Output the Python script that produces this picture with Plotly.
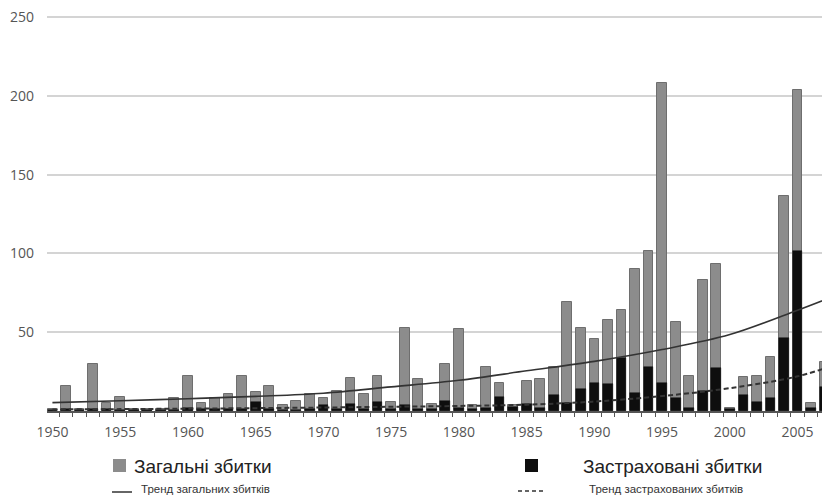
import plotly.graph_objects as go

# ---- data ----
years = list(range(1950, 2008))
total_losses = [1.5, 16, 1, 30, 5, 9, 1.5, 1.5, 1.5, 8,
                22, 5, 8.5, 11, 22.5, 12, 16, 3.5, 6.5, 11,
                8.5, 13, 21, 11, 22, 5.5, 53, 20, 4.5, 30,
                52, 3.5, 28, 18, 4, 19, 20, 28, 69, 52.5,
                46, 57.5, 64, 90, 101.5, 208.5, 56.5, 22, 83, 93.5,
                2, 21.5, 22, 34.5, 136.5, 204, 5, 31]
insured_losses = [0.5, 1.5, 0.5, 1.5, 1, 0.5, 0.5, 0.5, 0.5, 0.5,
                  2, 1, 1, 1, 1.5, 5.5, 1.5, 0.5, 0.5, 1,
                  3.5, 1, 4.5, 1, 6, 1, 4, 1.5, 1.5, 6.5,
                  2, 1.5, 2, 9, 2.5, 4.5, 2, 10, 5, 14,
                  18, 17, 33.5, 11.5, 28, 18, 8, 2, 12.5, 27,
                  1, 10, 6, 8.5, 46.5, 101.5, 2, 15]

trend_years = [1950, 1955, 1960, 1965, 1970, 1975, 1980, 1985, 1990, 1995, 2000, 2005, 2008]
trend_total = [5.3, 6.5, 7.8, 9.3, 11.3, 15.3, 19.5, 25.5, 31.5, 39, 48.5, 64, 74]
trend_insured = [1.0, 1.2, 1.5, 1.8, 2.2, 2.7, 3.2, 4.0, 6.0, 9.5, 14.5, 22, 30]

y_ticks = [50, 100, 150, 200, 250]

legend_total = "Загальні збитки"
legend_insured = "Застраховані збитки"
legend_trend_total = "Тренд загальних збитків"
legend_trend_insured = "Тренд застрахованих збитків"

FONT = "Liberation Sans, Arial, sans-serif"
TICKFONT = "Open Sans, Liberation Sans, sans-serif"

# ---- figure ----
fig = go.Figure()
fig.add_trace(go.Bar(x=years, y=total_losses, width=0.72,
                     marker=dict(color="#8c8c8c", line=dict(color="#6e6e6e", width=1)),
                     name=legend_total, showlegend=False))
fig.add_trace(go.Bar(x=years, y=insured_losses, width=0.72,
                     marker=dict(color="#0e0e0e", line=dict(color="#0e0e0e", width=0.5)),
                     name=legend_insured, showlegend=False))
fig.add_trace(go.Scatter(x=trend_years, y=trend_total, mode="lines",
                         line=dict(color="#333333", width=1.6, shape="spline"),
                         name=legend_trend_total, showlegend=False))
fig.add_trace(go.Scatter(x=trend_years, y=trend_insured, mode="lines",
                         line=dict(color="#333333", width=2, dash="5px,3px", shape="spline"),
                         name=legend_trend_insured, showlegend=False))

L, T, R, B = 47, 14, 0, 84
W, H = 822, 495
PW, PH = W - L - R, H - T - B


def px(xp):
    return (xp - L) / PW


def py(yp):
    return (H - B - yp) / PH


shapes = [
    dict(type="rect", xref="paper", yref="paper", x0=px(113), x1=px(126), y0=py(472), y1=py(459),
         fillcolor="#8c8c8c", line=dict(width=0)),
    dict(type="rect", xref="paper", yref="paper", x0=px(525), x1=px(538), y0=py(472), y1=py(459),
         fillcolor="#0e0e0e", line=dict(width=0)),
    dict(type="line", xref="paper", yref="paper", x0=px(112), x1=px(132), y0=py(492), y1=py(492),
         line=dict(color="#333333", width=1.5)),
    dict(type="line", xref="paper", yref="paper", x0=px(518), x1=px(543), y0=py(491), y1=py(491),
         line=dict(color="#333333", width=1.5, dash="4px,3px")),
]

annotations = [
    dict(text=legend_total, xref="paper", yref="paper", x=px(132), y=py(466), xanchor="left",
         yanchor="middle", showarrow=False, font=dict(family=FONT, size=19, color="#222")),
    dict(text=legend_insured, xref="paper", yref="paper", x=px(581), y=py(466), xanchor="left",
         yanchor="middle", showarrow=False, font=dict(family=FONT, size=19, color="#222")),
    dict(text=legend_trend_total, xref="paper", yref="paper", x=px(139), y=py(489), xanchor="left",
         yanchor="middle", showarrow=False, font=dict(family=FONT, size=11.5, color="#333")),
    dict(text=legend_trend_insured, xref="paper", yref="paper", x=px(587), y=py(489), xanchor="left",
         yanchor="middle", showarrow=False, font=dict(family=FONT, size=11.5, color="#333")),
]

fig.update_layout(
    width=W, height=H,
    margin=dict(l=L, r=R, t=T, b=B, pad=0),
    paper_bgcolor="white", plot_bgcolor="white",
    barmode="overlay", bargap=0,
    showlegend=False,
    font=dict(family=FONT, size=14, color="#555"),
    shapes=shapes, annotations=annotations,
    xaxis=dict(range=[1949.6, 2006.8], tickmode="linear", tick0=1950, dtick=5,
               ticks="", showgrid=False, zeroline=False,
               showline=True, linecolor="#555", linewidth=1.5,
               ticklabelstandoff=7,
               tickfont=dict(family=TICKFONT, size=14, color="#555"),
               minor=dict(tick0=1949.5, dtick=1, ticks="outside", ticklen=4,
                          tickcolor="#555", tickwidth=1, showgrid=False)),
    yaxis=dict(range=[0, 252], tickmode="array", tickvals=y_ticks,
               showgrid=True, gridcolor="#d4d4d4", gridwidth=1.5,
               zeroline=False, showline=False, ticks="",
               ticklabelstandoff=12,
               tickfont=dict(family=TICKFONT, size=14, color="#555")),
)

fig.write_html("out.html", config={"displayModeBar": False},
               post_script="document.body.style.margin='0';document.body.style.overflow='hidden';")
